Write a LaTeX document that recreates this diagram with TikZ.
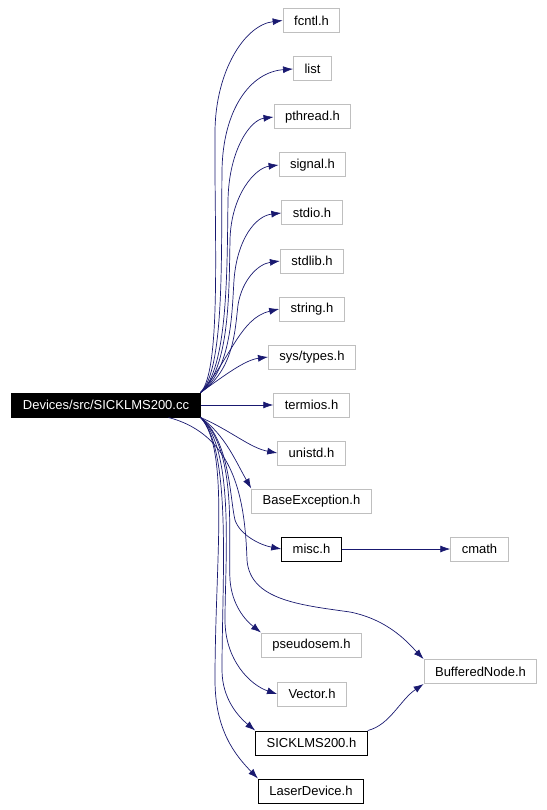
\documentclass[tikz,border=0pt]{standalone}
\usepackage{fontspec}
\setmainfont{Liberation Sans}
\usepackage{xcolor}
\usetikzlibrary{shapes,arrows.meta,positioning,calc}
\definecolor{edgeblue}{RGB}{25,25,112}
\definecolor{boxgray}{RGB}{191,191,191}

\begin{document}
\begin{tikzpicture}[x=1pt, y=-1pt,
    font=\fontsize{13}{15}\selectfont,
    file/.style={draw=boxgray, line width=1pt, rectangle, minimum height=24pt, inner xsep=11pt, inner ysep=0pt},
    docfile/.style={file, draw=black},
    rootfile/.style={file, draw=black, fill=black, text=white},
    dep/.style={draw=edgeblue, line width=0.7pt, -{Latex[length=10pt,width=7pt]}}]
\useasboundingbox (0,0) rectangle (546,810);
\node[rootfile] (root) at (106,405) {Devices/src/SICKLMS200.cc};
\node[file] (fcntl) at (311.5,20.5) {fcntl.h};
\node[file] (list) at (312.5,69) {list};
\node[file] (pthread) at (312.5,117) {pthread.h};
\node[file] (signal) at (312.5,165) {signal.h};
\node[file] (stdio) at (312,213) {stdio.h};
\node[file] (stdlib) at (312,261) {stdlib.h};
\node[file] (string) at (312,309) {string.h};
\node[file] (systypes) at (312,357) {sys/types.h};
\node[file] (termios) at (311.5,405) {termios.h};
\node[file] (unistd) at (311.5,453) {unistd.h};
\node[file] (baseexc) at (311.5,501) {BaseException.h};
\node[docfile] (misc) at (311.5,549) {misc.h};
\node[file] (cmath) at (479.5,549) {cmath};
\node[file] (pseudosem) at (311.5,645) {pseudosem.h};
\node[file] (buffered) at (480.5,671.5) {BufferedNode.h};
\node[file] (vector) at (312,694) {Vector.h};
\node[docfile] (sickh) at (311.5,743) {SICKLMS200.h};
\node[docfile] (laser) at (311,791) {LaserDevice.h};

% upper includes
\draw[dep] (root.north east) .. controls (222,370) and (214,230) .. (215,130) .. controls (216,70) and (245,25) .. (fcntl.west);
\draw[dep] (root.north east) .. controls (225,370) and (221,250) .. (222,170) .. controls (223,110) and (250,72) .. (list.west);
\draw[dep] (root.north east) .. controls (228,370) and (227,270) .. (228,200) .. controls (229,150) and (250,120) .. (pthread.west);
\draw[dep] (root.north east) .. controls (230,370) and (229,290) .. (230,240) .. controls (231,195) and (255,168) .. (signal.west);
\draw[dep] (root.north east) .. controls (232,370) and (232,310) .. (234,280) .. controls (237,240) and (255,216) .. (stdio.west);
\draw[dep] (root.north east) .. controls (234,370) and (235,330) .. (238,305) .. controls (242,280) and (258,264) .. (stdlib.west);
\draw[dep] (root.north east) .. controls (230,360) and (240,318) .. (string.west);
\draw[dep] (root.north east) .. controls (225,375) and (245,360) .. (systypes.west);
\draw[dep] (root.east) -- (termios.west);

% lower includes
\draw[dep] (root.south east) .. controls (230,430) and (250,448) .. (unistd.west);
\draw[dep] (root.south east) .. controls (225,435) and (235,460) .. (baseexc.north west);
\draw[dep] (root.south east) .. controls (230,440) and (230,500) .. (235,520) .. controls (240,535) and (260,545) .. (misc.west);
\draw[dep] ([xshift=-32pt]root.south east) .. controls (235,435) and (245,500) .. (247,560) .. controls (250,600) and (300,605) .. (350,612) .. controls (390,620) and (410,645) .. (buffered.north west);
\draw[dep] (root.south east) .. controls (238,450) and (228,540) .. (230,580) .. controls (232,605) and (245,620) .. (pseudosem.north west);
\draw[dep] (root.south east) .. controls (235,450) and (225,560) .. (225,620) .. controls (225,660) and (250,685) .. (vector.west);
\draw[dep] (root.south east) .. controls (232,450) and (222,580) .. (222,670) .. controls (222,700) and (240,718) .. (sickh.north west);
\draw[dep] (root.south east) .. controls (230,450) and (215,560) .. (215,680) .. controls (215,730) and (235,755) .. (laser.north west);

% second level
\draw[dep] (misc.east) -- (cmath.west);
\draw[dep] (sickh.north east) .. controls (390,725) and (400,700) .. (buffered.south west);
\end{tikzpicture}
\end{document}
